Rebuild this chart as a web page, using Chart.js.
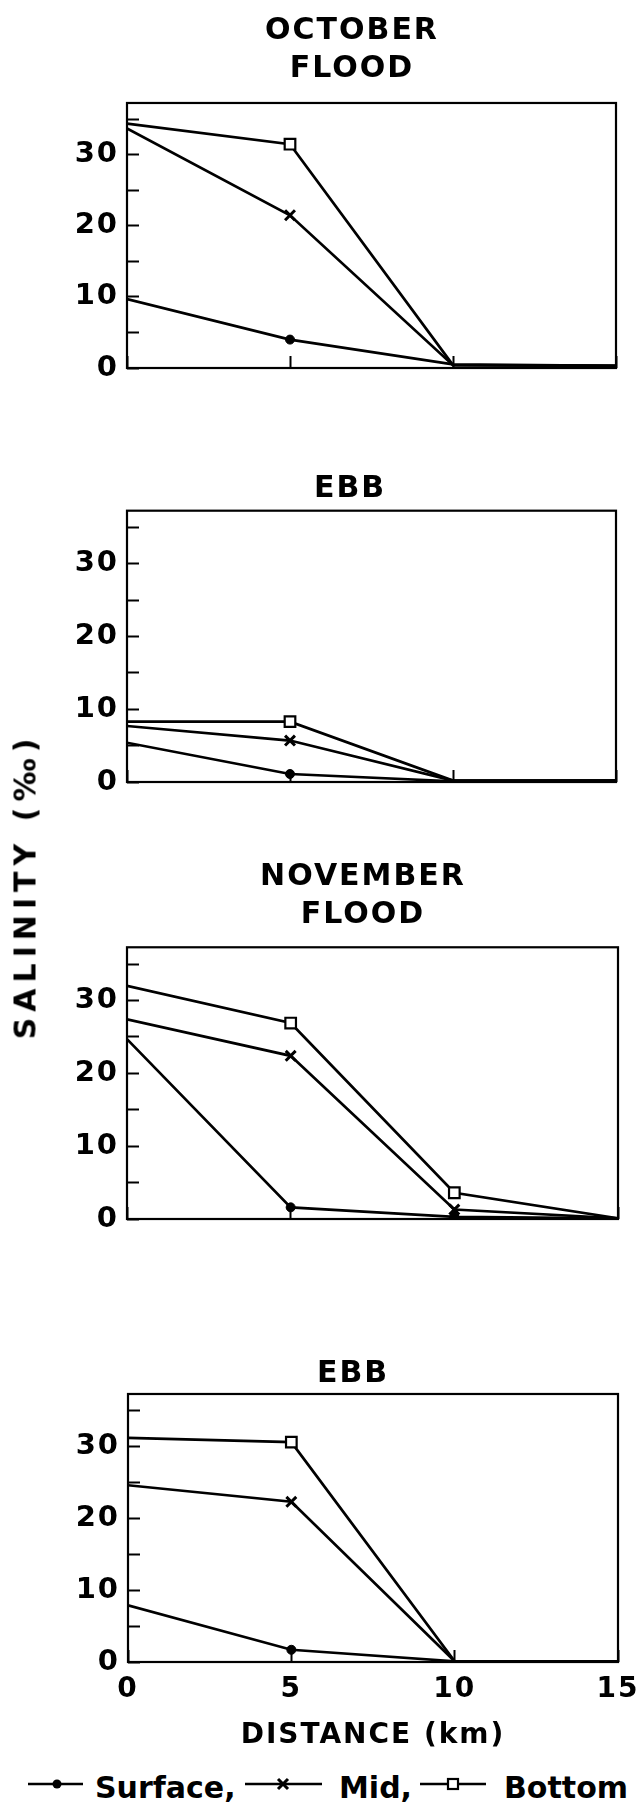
<!DOCTYPE html>
<html>
<head>
<meta charset="utf-8">
<script src="https://cdn.jsdelivr.net/npm/chart.js@4.4.1/dist/chart.umd.min.js"></script>
<style>
  html, body { margin: 0; padding: 0; background: #fff; }
  body { width: 640px; height: 1818px; position: relative; overflow: hidden;
         font-family: "DejaVu Sans", sans-serif; font-weight: bold; color: #000; }
  canvas { position: absolute; left: 0; }
  .ylabel { position: absolute; left: 25px; top: 886px; transform: translate(-50%, -50%) rotate(-90deg);
            font-size: 30px; letter-spacing: 6px; white-space: nowrap; }
  .leg { position: absolute; top: 1773px; height: 30px; line-height: 30px; font-size: 30px;
         white-space: nowrap; }
</style>
</head>
<body>
<canvas id="p1" width="640" height="384" style="top:0px"></canvas>
<canvas id="p2" width="640" height="348" style="top:450px"></canvas>
<canvas id="p3" width="640" height="405" style="top:830px"></canvas>
<canvas id="p4" width="640" height="423" style="top:1330px"></canvas>

<div class="ylabel">SALINITY (‰)</div>

<!-- legend: line + marker symbols, then the text -->
<svg class="leg" style="left:28px" width="55" height="30"><line x1="0" y1="11" x2="55" y2="11" stroke="#000" stroke-width="2.4"/><circle cx="29" cy="11" r="4.5" fill="#000"/></svg>
<div class="leg" style="left:95px">Surface,</div>
<svg class="leg" style="left:245px" width="77" height="30"><line x1="0" y1="11" x2="77" y2="11" stroke="#000" stroke-width="2.4"/><path d="M33 6 L43 16 M43 6 L33 16" stroke="#000" stroke-width="3"/></svg>
<div class="leg" style="left:339px">Mid,</div>
<svg class="leg" style="left:420px" width="66" height="30"><line x1="0" y1="11" x2="66" y2="11" stroke="#000" stroke-width="2.4"/><rect x="28" y="6" width="10" height="10" fill="#fff" stroke="#000" stroke-width="2.2"/></svg>
<div class="leg" style="left:504px">Bottom</div>

<script>
// distance along the river (km)
const distances = [0, 5, 10, 15];

// October, flood tide
const octFloodSurface = [9.7, 4.0, 0.5, 0.3];
const octFloodMid     = [33.7, 21.5, 0.4, 0.3];
const octFloodBottom  = [34.4, 31.5, 0.4, 0.3];

// October, ebb tide
const octEbbSurface = [5.4, 1.1, 0.1, 0.2];
const octEbbMid     = [7.7, 5.7, 0.2, 0.2];
const octEbbBottom  = [8.3, 8.3, 0.2, 0.2];

// November, flood tide
const novFloodSurface = [24.7, 1.6, 0.3, 0.1];
const novFloodMid     = [27.4, 22.4, 1.3, 0.1];
const novFloodBottom  = [32.0, 26.9, 3.6, 0.1];

// November, ebb tide
const novEbbSurface = [7.9, 1.7, 0.1, 0.1];
const novEbbMid     = [24.6, 22.3, 0.1, 0.1];
const novEbbBottom  = [31.2, 30.6, 0.1, 0.1];

const yTicks = [0, 10, 20, 30];   // labelled salinity ticks (minor every 5)
const xTicks = [0, 5, 10, 15];

const FONT = "'DejaVu Sans', sans-serif";
Chart.defaults.font.family = FONT;
Chart.defaults.font.weight = 'bold';
Chart.defaults.color = '#000';

// box round the plot area
const frame = {
  id: 'frame',
  afterDatasetsDraw(chart) {
    const { ctx, chartArea: a } = chart;
    ctx.save();
    ctx.strokeStyle = '#000';
    ctx.lineWidth = 2.2;
    ctx.strokeRect(a.left, a.top, a.right - a.left, a.bottom - a.top);
    ctx.restore();
  }
};

// the old stencil lettering is spaced out a bit
const spacing = {
  id: 'spacing',
  beforeLayout(chart) { chart.ctx.letterSpacing = '2px'; },
  beforeDraw(chart) { chart.ctx.letterSpacing = '2px'; }
};

const markers = {
  surface: { shape: 'circle', r: 4.5, fill: '#000', bw: 1 },
  mid: { shape: 'crossRot', r: 7, fill: '#000', bw: 3 },
  bottom: { shape: 'rect', r: 7.5, fill: '#fff', bw: 2.2 }
};

function series(label, values, m, marked) {
  return {
    label: label,
    data: distances.map((d, i) => ({ x: d, y: values[i] })),
    borderColor: '#000',
    borderWidth: 2.7,
    tension: 0,
    fill: false,
    pointStyle: m.shape,
    pointRadius: c => marked.includes(c.dataIndex) ? m.r : 0,
    pointHoverRadius: 0,
    pointBackgroundColor: m.fill,
    pointBorderColor: '#000',
    pointBorderWidth: m.bw
  };
}

function panel(id, title, surface, mid, bottom, marked, box) {
  new Chart(document.getElementById(id), {
    type: 'line',
    data: {
      datasets: [
        series('Bottom', bottom, markers.bottom, marked),
        series('Mid', mid, markers.mid, marked),
        series('Surface', surface, markers.surface, marked)
      ]
    },
    options: {
      responsive: false,
      animation: false,
      events: [],
      layout: { padding: { left: box.padL, right: box.padR, top: 0, bottom: 0 } },
      plugins: {
        legend: { display: false },
        tooltip: { enabled: false },
        title: {
          display: true,
          text: title,
          color: '#000',
          font: { family: FONT, size: 30, weight: 'bold', lineHeight: 1.273 },
          padding: { top: box.tTop, bottom: box.tBottom }
        }
      },
      scales: {
        x: {
          type: 'linear',
          min: 0,
          max: 15,
          border: { display: false },
          grid: { drawOnChartArea: false, drawTicks: true, tickLength: -12, tickWidth: 2, tickColor: '#000' },
          ticks: {
            stepSize: 5,
            padding: 23,
            maxRotation: 0,
            autoSkip: false,
            color: '#000',
            font: { family: FONT, size: 28, weight: 'bold', lineHeight: 1.2 },
            callback: v => (box.xLabels && xTicks.includes(v)) ? v : ''
          },
          title: {
            display: !!box.xLabels,
            text: 'DISTANCE (km)',
            color: '#000',
            font: { family: FONT, size: 28, weight: 'bold', lineHeight: 1.2 },
            padding: 0
          },
          afterFit: s => { s.height = box.xHeight; s.paddingLeft = 0; s.paddingRight = 0; }
        },
        y: {
          min: 0,
          max: 37.3,
          border: { display: false },
          grid: { drawOnChartArea: false, drawTicks: true, tickLength: -12, tickWidth: 2, tickColor: '#000' },
          ticks: {
            stepSize: 5,
            includeBounds: false,
            padding: 20,
            color: '#000',
            font: { family: FONT, size: 29, weight: 'bold', lineHeight: 1 },
            callback: v => yTicks.includes(v) ? v : ''
          },
          afterFit: s => {
            s.width = box.yWidth;
            s.paddingTop = 0;
            s.paddingBottom = 0;
            s._computeLabelArea = () => undefined; // labels may reach past the narrow axis box
          }
        }
      }
    },
    plugins: [spacing, frame]
  });
}

panel('p1', ['OCTOBER', 'FLOOD'], octFloodSurface, octFloodMid, octFloodBottom, [1],
  { padL: 88, padR: 24, yWidth: 39, xHeight: 16, tTop: 11.7, tBottom: 14.9 });
panel('p2', ['EBB'], octEbbSurface, octEbbMid, octEbbBottom, [1],
  { padL: 84, padR: 24, yWidth: 43, xHeight: 16, tTop: 20.4, tBottom: 2.1 });
panel('p3', ['NOVEMBER', 'FLOOD'], novFloodSurface, novFloodMid, novFloodBottom, [1, 2],
  { padL: 108, padR: 22, yWidth: 19, xHeight: 16, tTop: 27.9, tBottom: 13.0 });
panel('p4', ['EBB'], novEbbSurface, novEbbMid, novEbbBottom, [1],
  { padL: 88, padR: 22, yWidth: 40, xHeight: 91, tTop: 24.9, tBottom: 0.9, xLabels: true });
</script>
</body>
</html>
